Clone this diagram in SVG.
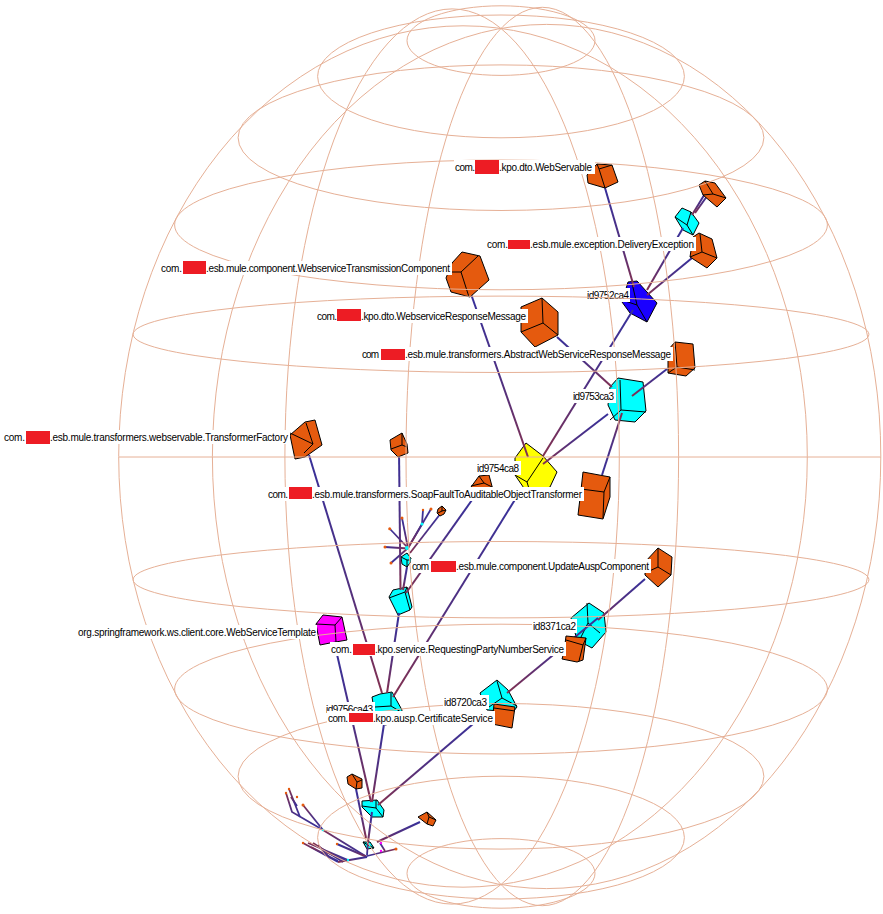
<svg xmlns="http://www.w3.org/2000/svg" width="883" height="914" viewBox="0 0 883 914">
<style>
text{font-family:"Liberation Sans",Arial,sans-serif;font-size:10px;fill:#000}
.grid ellipse,.grid line{fill:none;stroke:#e6b096;stroke-width:1}
.cube polygon{stroke:#000;stroke-width:1}
.cube path{fill:none;stroke:#000;stroke-width:1}
.o polygon{fill:#e55a0e}.c polygon{fill:#00ffff}.bl polygon{fill:#1a00ff}.y polygon{fill:#ffff00}.mg polygon{fill:#ff00ff}
.cd,.cu,.ch{fill:none;stroke-width:2}
.cd{stroke:url(#gd)}.cu{stroke:url(#gu)}.ch{stroke:url(#gh)}
.th{stroke-width:1.8}
.bg{fill:#fff}.red{fill:#ed1c24}
.tip{fill:#e55a0e}.tc{fill:#00ffff}.tm{fill:#ff00ff}
</style>
<defs>
<linearGradient id="gd" x1="0" y1="0" x2="0" y2="1"><stop offset="0" stop-color="#38309a"/><stop offset="0.55" stop-color="#503080"/><stop offset="1" stop-color="#823050"/></linearGradient>
<linearGradient id="gu" x1="0" y1="1" x2="0" y2="0"><stop offset="0" stop-color="#38309a"/><stop offset="0.55" stop-color="#503080"/><stop offset="1" stop-color="#823050"/></linearGradient>
<linearGradient id="gh" x1="0" y1="0" x2="1" y2="0"><stop offset="0" stop-color="#38309a"/><stop offset="1" stop-color="#823050"/></linearGradient>
</defs>
<rect width="883" height="914" fill="#fff"/>

<g id="node-id9752ca4" class="cube bl"><polygon points="622,302 628,282 637,281 657,303 647,322 630,313"/><path d="M637,305L632,283M637,305L647,322M637,305L622,300"/></g>
<g id="node-id9753ca3" class="cube c"><polygon points="608,405 610,387 618,378 643,382 646,411 635,422 615,420"/><path d="M621,410L620,380M621,410L646,412M621,410L610,420"/></g>
<g id="node-id9754ca8" class="cube y"><polygon points="515,458 526,443 543,456 557,472 550,487 530,497 515,475"/><path d="M543,458L527,482M527,482L515,475M527,482L530,492"/></g>
<g id="node-id8371ca2" class="cube c"><polygon points="571,618 589,603 604,613 606,632 592,648 577,640"/><path d="M588,623L587,603M588,623L600,633M588,623L581,637"/></g>
<g id="node-id8720ca3" class="cube c"><polygon points="480,693 497,680 508,690 517,707 513,712 487,710"/><path d="M502,698L497,681M502,698L517,706M502,698L489,707"/></g>
<g id="node-id9756ca43" class="cube c"><polygon points="372,697 380,694 392,692 402,710 400,722 385,725 375,715"/><path d="M391,706L391,693M391,706L375,707M391,706L401,712"/></g>
<g id="node-cyan-a" class="cube c"><polygon points="675,217 682,208 691,212 699,223 693,235 683,230"/><path d="M687,225L675,217M687,225L691,212M687,225L693,235"/></g>
<g id="node-cyan-b" class="cube c"><polygon points="389,597 393,590 407,587 412,607 410,610 398,615"/><path d="M405,592L389,598M405,592L407,587M405,592L410,610"/></g>
<g id="node-cyan-c" class="cube c"><polygon points="401,557 407,553 412,560 407,567 402,564"/><path d="M407,560L401,557M407,560L412,560M407,560L407,567"/></g>
<g id="node-cyan-d" class="cube c"><polygon points="362,801 377,800 384,810 383,817 372,817 362,807"/><path d="M376,808L376,800M376,808L362,806M376,808L383,817"/></g>
<g id="node-cyan-e" class="cube c"><polygon points="363,842 370,842 374,848 367,849"/><path d="M368,845L363,842M368,845L374,848"/></g>

<g id="connectors">
<path class="cd" d="M605,188L634,287"/>
<path class="cd" d="M683,228L647,290"/>
<path class="cd" d="M692,258L647,295"/>
<path class="cd" d="M706,192L692,215"/>
<path class="cd" d="M710,192L695,213"/>
<path class="cd" d="M633,310L543,456"/>
<path class="cd" d="M471,294L528,457"/>
<path class="cd" d="M557,337L612,387"/>
<path class="cd" d="M667,369L632,396"/>
<path class="cu" d="M602,475L622,413"/>
<path class="cd" d="M608,414L543,464"/>
<path class="cd" d="M516,498L393,697"/>
<path class="cd" d="M309,455L382,693"/>
<path class="cd" d="M399,613L387,693"/>
<path class="cd" d="M407,567L403,590"/>
<path class="cd" d="M399,450L400.5,590"/>
<path class="cd" d="M472,500L406,593"/>
<path class="cd" d="M645,579L598,620"/>
<path class="cd" d="M598,618L507,693"/>
<path class="cd" d="M480,718L378,805"/>
<path class="cd" d="M336,650L371,802"/>
<path class="cd" d="M384,724L372,802"/>
<path class="cd" d="M372,812L368,842"/>
<path class="cd" d="M356,789L366,838"/>
<path class="cd" d="M420,822L377,842"/>
<path class="cd th" d="M390,529L408,548"/>
<path class="ch" d="M385,547L408,548.500"/>
<path class="cu th" d="M391,563L408,548"/>
<path class="cd th" d="M402,518L408,548"/>
<path class="cd th" d="M423,510L422,524L408,548"/>
<path class="cd th" d="M431,509L408,548"/>
<path class="cd th" d="M441,513L410,553"/>
<path class="cu" d="M367,857L323,830"/>
<path class="cu th" d="M323,830L303,805"/>
<path class="cu th" d="M323,830L292,812L286,793"/>
<path class="cu th" d="M300,817L289,789"/>
<path class="cu th" d="M297,806L291,797"/>
<path class="cu th" d="M338,862L303,843"/>
<path class="cu th" d="M348,860L308,843"/>
<path class="cu th" d="M343,862L313,843"/>
<path class="cu th" d="M330,858L318,845"/>
<path class="cu th" d="M338,861L311,847"/>
<path class="cd" d="M337,844L367,857"/>
<path class="cd" d="M367,857L338,862"/>
<path class="cu" d="M345,860L326,852"/>
<path class="ch th" d="M367,856L396,849"/>
<path class="cd th" d="M380,843L385,851"/>
<path class="cu th" d="M367,855L368,842"/>
</g>

<g id="tiny-nodes">
<circle class="tip" cx="389.700" cy="528.700" r="1.500"/>
<circle class="tip" cx="385" cy="547" r="1.500"/>
<circle class="tip" cx="391" cy="563" r="1.500"/>
<circle class="tip" cx="402" cy="518" r="1.500"/>
<circle class="tip" cx="423" cy="510" r="1.200"/>
<circle class="tip" cx="431" cy="509" r="1.500"/>
<circle class="tc" cx="422" cy="524" r="1.500"/>
<circle class="tc" cx="407" cy="548" r="2"/>
<circle class="tip" cx="303" cy="805" r="1.500"/>
<circle class="tip" cx="286" cy="793" r="1.200"/>
<circle class="tip" cx="289" cy="789" r="1.200"/>
<circle class="tip" cx="297" cy="797" r="1.200"/>
<circle class="tip" cx="303" cy="843" r="1.200"/>
<circle class="tip" cx="337" cy="844" r="1.200"/>
<circle class="tip" cx="396" cy="849" r="1.500"/>
<circle class="tm" cx="381" cy="843" r="1.200"/>
<circle class="tm" cx="381" cy="851" r="1.200"/>
<circle class="tc" cx="323" cy="830" r="1.200"/>
<circle class="tc" cx="348" cy="860" r="1.200"/>
</g>

<g id="node-webservable" class="cube o"><polygon points="587,175 597,164 612,165 618,182 605,188 588,183"/><path d="M599,169L597,164M599,169L612,165M599,169L605,188"/></g>
<g id="node-orange-top" class="cube o"><polygon points="699,185 705,181 715,183 726,198 717,207 703,195"/><path d="M713,194L705,181M713,194L726,198M713,194L703,195"/></g>
<g id="node-delivery" class="cube o"><polygon points="693,237 699,233 712,239 717,258 707,268 690,257"/><path d="M702,252L700,234M702,252L717,258M702,252L690,257"/></g>
<g id="node-transmission" class="cube o"><polygon points="446,278 452,263 462,252 480,256 489,280 470,297 451,292"/><path d="M461,272L478,256M461,272L469,297M461,272L446,272"/></g>
<g id="node-response" class="cube o"><polygon points="521,307 542,298 558,312 558,335 535,347 521,332"/><path d="M543,323L542,298M543,323L558,335M543,323L521,332"/></g>
<g id="node-abstract" class="cube o"><polygon points="668,350 675,342 693,344 695,368 686,376 668,373"/><path d="M677,367L675,342M677,367L695,370M677,367L668,373"/></g>
<g id="node-orange-below" class="cube o"><polygon points="583,472 610,477 610,497 603,519 578,515 581,490"/><path d="M604,492L581,489M604,492L610,477M604,492L603,518"/></g>
<g id="node-factory" class="cube o"><polygon points="290,435 305,422 315,420 322,445 305,457 295,459"/><path d="M313,444L306,423M313,444L290,433M313,444L304,453"/></g>
<g id="node-orange-mid" class="cube o"><polygon points="390,440 402,433 407,444 408,453 398,457 391,450"/><path d="M402,445L402,433M402,445L407,447M402,445L391,449"/></g>
<g id="node-soapfault" class="cube o"><polygon points="471,487 479,476 489,475 493,490 493,495 471,495"/><path d="M484,483L479,476M484,483L471,486M484,483L492,487"/></g>
<g id="node-orange-tiny" class="cube o"><polygon points="438,509 442,506 446,510 444,514 440,516 437,513"/><path d="M442,511L442,506M442,511L446,510M442,511L438,513"/></g>
<g id="node-update" class="cube o"><polygon points="645,562 658,548 672,557 671,575 658,587 645,575"/><path d="M658,567L658,548M658,567L671,575M658,567L645,573"/></g>
<g id="node-template" class="cube mg"><polygon points="316,624 323,615 342,617 347,640 330,643 320,645"/><path d="M335,625L342,617M335,625L316,624M335,625L336,642"/></g>
<g id="node-requesting" class="cube o"><polygon points="566,636 586,638 583,660 577,662 562,659 564,652"/><path d="M566,640L583,645M583,645L586,638M583,645L579,661"/></g>
<g id="node-certificate" class="cube o"><polygon points="494,704 515,707 512,728 492,724"/><path d="M494,708L515,711"/></g>
<g id="node-orange-low" class="cube o"><polygon points="347,777 352,774 362,779 362,788 356,789 348,784"/><path d="M357,782L352,774M357,782L362,780M357,782L356,789"/></g>
<g id="node-orange-right-low" class="cube o"><polygon points="418,817 427,812 436,820 433,826 427,824"/><path d="M429,817L427,812M429,817L436,820M429,817L427,824"/></g>

<g id="label-id9752ca4"><rect class="bg" x="586" y="288" width="44" height="14"/><text x="587" y="299" textLength="42">id9752ca4</text></g>

<g id="grid" class="grid">
<ellipse cx="501" cy="40.600" rx="94" ry="34.800"/>
<ellipse cx="501" cy="76.400" rx="183.400" ry="61.400"/>
<ellipse cx="501" cy="137.700" rx="262.900" ry="72.800"/>
<ellipse cx="501" cy="224.900" rx="326.400" ry="64.900"/>
<ellipse cx="501" cy="334.300" rx="367.900" ry="38.200"/>
<line x1="119" y1="457" x2="881" y2="457"/>
<ellipse cx="501" cy="579.700" rx="367.900" ry="38.200"/>
<ellipse cx="501" cy="689.100" rx="326.400" ry="64.900"/>
<ellipse cx="501" cy="776.300" rx="262.900" ry="72.800"/>
<ellipse cx="501" cy="837.600" rx="183.400" ry="61.400"/>
<ellipse cx="501" cy="873.400" rx="94" ry="34.800"/>
<ellipse cx="542.300" cy="456.500" rx="136.300" ry="449.200"/>
<ellipse cx="546.600" cy="456.500" rx="334.200" ry="432.100"/>
<ellipse cx="463" cy="456.500" rx="344.300" ry="430.700"/>
<ellipse cx="452.100" cy="456.500" rx="167.200" ry="447.600"/>
</g>

<g id="label-webservable"><rect class="bg" x="454" y="160" width="141" height="14"/><text x="455" y="171" textLength="20">com.</text><rect class="red" x="475" y="160" width="24" height="14"/><text x="499" y="171" textLength="93">.kpo.dto.WebServable</text></g>
<g id="label-delivery"><rect class="bg" x="486" y="237" width="210" height="14"/><text x="487" y="248" textLength="21">com.</text><rect class="red" x="508" y="240" width="22" height="9"/><text x="530" y="248" textLength="164">.esb.mule.exception.DeliveryException</text></g>
<g id="label-transmission"><rect class="bg" x="160" y="261" width="292" height="14"/><text x="161" y="272" textLength="21">com.</text><rect class="red" x="183" y="261" width="23" height="13"/><text x="206" y="272" textLength="244">.esb.mule.component.WebserviceTransmissionComponent</text></g>
<g id="label-response"><rect class="bg" x="316" y="309" width="212" height="14"/><text x="317" y="320" textLength="20">com.</text><rect class="red" x="337" y="309" width="24" height="12"/><text x="361" y="320" textLength="165">.kpo.dto.WebserviceResponseMessage</text></g>
<g id="label-abstract"><rect class="bg" x="361" y="347" width="312" height="14"/><text x="362" y="358" textLength="17">com</text><rect class="red" x="381" y="349" width="24" height="11"/><text x="405" y="358" textLength="266">.esb.mule.transformers.AbstractWebServiceResponseMessage</text></g>
<g id="label-id9753ca3"><rect class="bg" x="572" y="389" width="44" height="14"/><text x="573" y="400" textLength="41">id9753ca3</text></g>
<g id="label-factory"><rect class="bg" x="3" y="430" width="287" height="14"/><text x="4" y="441" textLength="21">com.</text><rect class="red" x="26" y="431" width="24" height="13"/><text x="50" y="441" textLength="238">.esb.mule.transformers.webservable.TransformerFactory</text></g>
<g id="label-id9754ca8"><rect class="bg" x="476" y="461" width="45" height="14"/><text x="477" y="472" textLength="42">id9754ca8</text></g>
<g id="label-soapfault"><rect class="bg" x="267" y="487" width="317" height="14"/><text x="268" y="498" textLength="20">com.</text><rect class="red" x="289" y="487" width="23" height="12"/><text x="312" y="498" textLength="270">.esb.mule.transformers.SoapFaultToAuditableObjectTransformer</text></g>
<g id="label-update"><rect class="bg" x="411" y="559" width="240" height="14"/><text x="412" y="570" textLength="17">com</text><rect class="red" x="431" y="561" width="25" height="11"/><text x="456" y="570" textLength="193">.esb.mule.component.UpdateAuspComponent</text></g>
<g id="label-id8371ca2"><rect class="bg" x="532" y="619" width="45" height="14"/><text x="533" y="630" textLength="43">id8371ca2</text></g>
<g id="label-template"><rect class="bg" x="77" y="625" width="240" height="14"/><text x="78" y="636" textLength="238">org.springframework.ws.client.core.WebServiceTemplate</text></g>
<g id="label-requesting"><rect class="bg" x="330" y="642" width="236" height="14"/><text x="331" y="653" textLength="21">com.</text><rect class="red" x="353" y="644" width="22" height="11"/><text x="375" y="653" textLength="189">.kpo.service.RequestingPartyNumberService</text></g>
<g id="label-id8720ca3"><rect class="bg" x="443" y="695" width="46" height="14"/><text x="444" y="706" textLength="43">id8720ca3</text></g>
<g id="label-id9756ca43"><rect class="bg" x="325" y="702" width="50" height="14"/><text x="326" y="713" textLength="47">id9756ca43</text></g>
<g id="label-certificate"><rect class="bg" x="327" y="711" width="168" height="14"/><text x="328" y="722" textLength="20">com.</text><rect class="red" x="349" y="713" width="24" height="9"/><text x="373" y="722" textLength="120">.kpo.ausp.CertificateService</text></g>
</svg>
